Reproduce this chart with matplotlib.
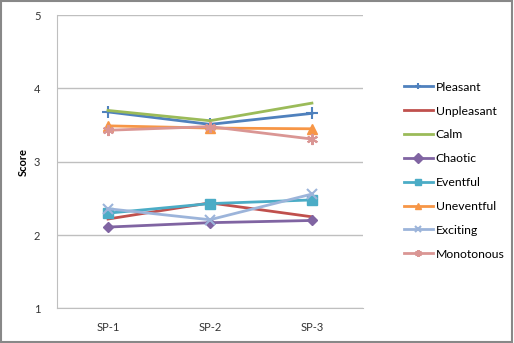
import matplotlib
matplotlib.use("Agg")
import matplotlib.pyplot as plt
from matplotlib.patches import Rectangle

plt.rcParams['font.family'] = ['Lato', 'DejaVu Sans']

categories = ["SP-1", "SP-2", "SP-3"]
series_names = ["Pleasant", "Unpleasant", "Calm", "Chaotic", "Eventful",
                "Uneventful", "Exciting", "Monotonous"]
pleasant = [3.68, 3.51, 3.66]
unpleasant = [2.22, 2.44, 2.25]
calm = [3.70, 3.56, 3.80]
chaotic = [2.11, 2.17, 2.20]
eventful = [2.30, 2.43, 2.48]
uneventful = [3.49, 3.46, 3.45]
exciting = [2.36, 2.21, 2.56]
monotonous = [3.43, 3.48, 3.31]
values = [pleasant, unpleasant, calm, chaotic, eventful, uneventful, exciting, monotonous]

colors = ["#4F81BD", "#C0504D", "#9BBB59", "#8064A2", "#4BACC6",
          "#F79646", "#9CB4DA", "#DA9694"]
markers = ["+", None, None, "D", "s", "^", "x", (6, 2, 0)]
msizes = [8, 0, 0, 5, 7, 7, 7, 8]

fig = plt.figure(figsize=(5.14, 3.43), dpi=100)
ax = fig.add_axes([0.111, 0.1006, 0.595, 0.8554])

x = list(range(len(categories)))
for name, vals, c, m, ms in zip(series_names, values, colors, markers, msizes):
    ax.plot(x, vals, color=c, lw=2, marker=m, markersize=ms,
            markeredgewidth=1.5 if m in ("+", "x", (6, 2, 0)) else 1,
            markerfacecolor=c, markeredgecolor=c, label=name)

ax.set_xlim(-0.5, 2.5)
ax.set_ylim(1, 5)
ax.set_yticks([1, 2, 3, 4, 5])
ax.set_xticks(x)
ax.set_xticklabels(categories)
ax.tick_params(axis='both', length=0, labelsize=8, colors='#333333')
ax.tick_params(axis='y', pad=12)
ax.tick_params(axis='x', pad=10)
ax.grid(axis='y', color='#BFBFBF', lw=1)
ax.set_axisbelow(True)
for s in ['top', 'right']:
    ax.spines[s].set_visible(False)
ax.spines['left'].set_color('#BFBFBF')
ax.spines['bottom'].set_color('#BFBFBF')
ax.set_ylabel("Score", fontsize=8, fontweight='bold', labelpad=4)

leg = fig.legend(loc='upper left', bbox_to_anchor=(0.776, 0.776), frameon=False,
                 fontsize=8.8, labelspacing=1.05, handlelength=2.4,
                 handletextpad=0.2, borderaxespad=0)
for h in leg.legend_handles:
    h.set_markersize(5)

fig.patches.append(Rectangle((0.002, 0.004), 0.994, 0.992, transform=fig.transFigure,
                             fill=False, edgecolor='#888888', lw=1.5))
fig.savefig("out.png", dpi=100)
